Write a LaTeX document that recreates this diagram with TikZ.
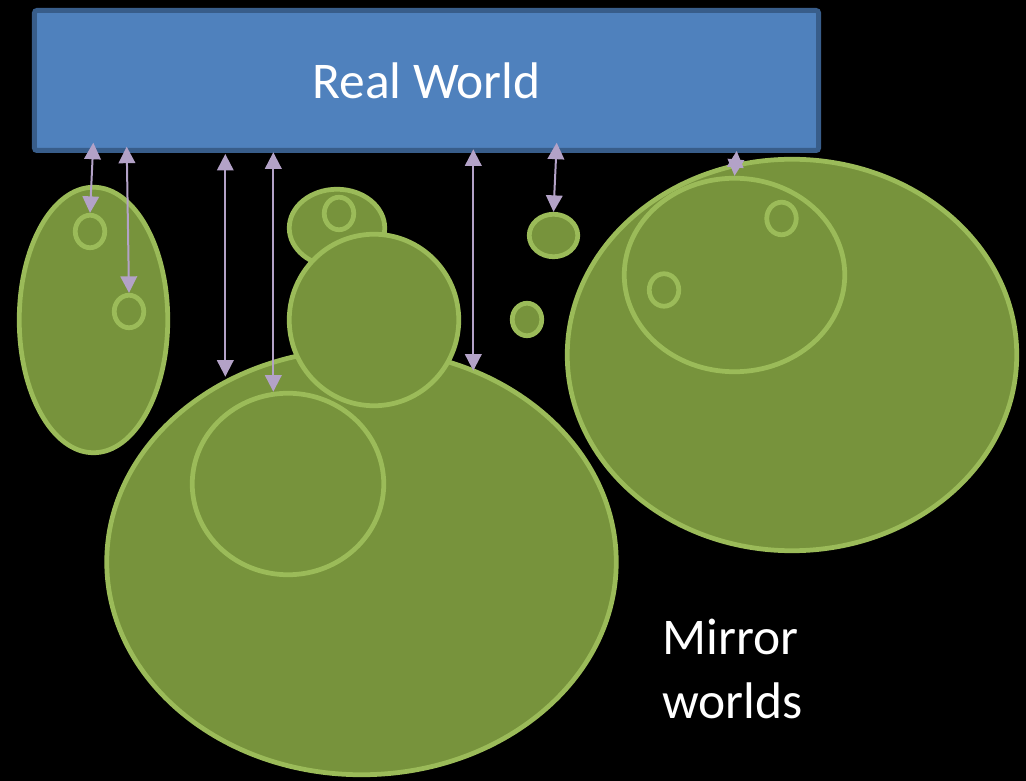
\documentclass[tikz,border=0pt]{standalone}
\usepackage{fontspec}
\setmainfont{Carlito}
\usetikzlibrary{arrows.meta,shapes.geometric}

\definecolor{worldblue}{HTML}{4F81BD}
\definecolor{worldedge}{HTML}{385D8A}
\definecolor{mirrorfill}{HTML}{77933C}
\definecolor{mirroredge}{HTML}{9BBB59}
\definecolor{linkcol}{HTML}{B3A2C7}

\begin{document}
\begin{tikzpicture}[
  x=0.2mm, y=-0.2mm,
  world/.style={draw=worldedge, fill=worldblue, line width=1mm, rounded corners=0.5mm, minimum width=156.8mm, minimum height=28mm, inner sep=0pt, text=white, font=\fontsize{29.3}{35}\selectfont},
  mirror/.style={ellipse, draw=mirroredge, fill=mirrorfill, line width=0.95mm, inner sep=0pt},
  ring/.style={mirror, minimum width=5.9mm, minimum height=6.5mm},
  link/.style={<->, draw=linkcol, line width=0.4mm},
  label/.style={text=white, align=left, inner sep=0pt, font=\fontsize{29.3}{35.9}\selectfont},
  >={Triangle[length=3.3mm, width=3.3mm]}
]
\useasboundingbox (0,0) rectangle (1026,781);
\fill[black] (0,0) rectangle (1026,781);

\node[world] (rw) at (426.5,80.5) {Real World};

% left world
\node[mirror, minimum width=29.7mm, minimum height=53.1mm] (lw) at (93.5,320) {};
\node[ring] (lw1) at (90,231.5) {};
\node[ring] (lw2) at (129,311.5) {};

% bottom worlds
\node[mirror, minimum width=101.9mm, minimum height=85.1mm] (bw) at (361.5,562) {};
\node[mirror, minimum width=38.3mm, minimum height=36.3mm] (bw1) at (288,484) {};
\node[mirror, minimum width=19.1mm, minimum height=15.5mm] (tw) at (337,228) {};
\node[ring] (tw1) at (339,213.5) {};
\node[mirror, minimum width=33.9mm, minimum height=34.3mm] (cw) at (374,320) {};

% small ones
\node[mirror, minimum width=9.7mm, minimum height=8.5mm] (sw) at (553.5,235.5) {};
\node[ring] (dw) at (527,319.5) {};

% right world
\node[mirror, minimum width=89.9mm, minimum height=78.3mm] (rgw) at (792,355) {};
\node[mirror, minimum width=44.1mm, minimum height=38.7mm] (rgw1) at (734.5,275) {};
\node[ring] (rgw2) at (781.5,218.5) {};
\node[ring] (rgw3) at (664,290) {};

\node[label, anchor=base west] (mw) at (662,718) {Mirror\\worlds};

% links
\coordinate (t1) at (93.3,142.7);
\coordinate (t2) at (126.7,146.7);
\coordinate (t3) at (225.3,154);
\coordinate (t4) at (273.3,152.3);
\coordinate (t5) at (473.3,149.3);
\coordinate (t6) at (556.7,142.7);
\coordinate (t7) at (736.7,151);
\coordinate (b3) at (225.3,376.7);
\coordinate (b4) at (273.3,391.7);
\coordinate (b5) at (473.3,370.7);

\draw[link] (t1) -- (lw1.north);
\draw[link] (t2) -- (lw2.north);
\draw[link] (t3) -- (b3);
\draw[link] (t4) -- (b4);
\draw[link] (t5) -- (b5);
\draw[link] (t6) -- (sw.north);
\draw[link] (t7) -- (rgw1.north);
\end{tikzpicture}
\end{document}
